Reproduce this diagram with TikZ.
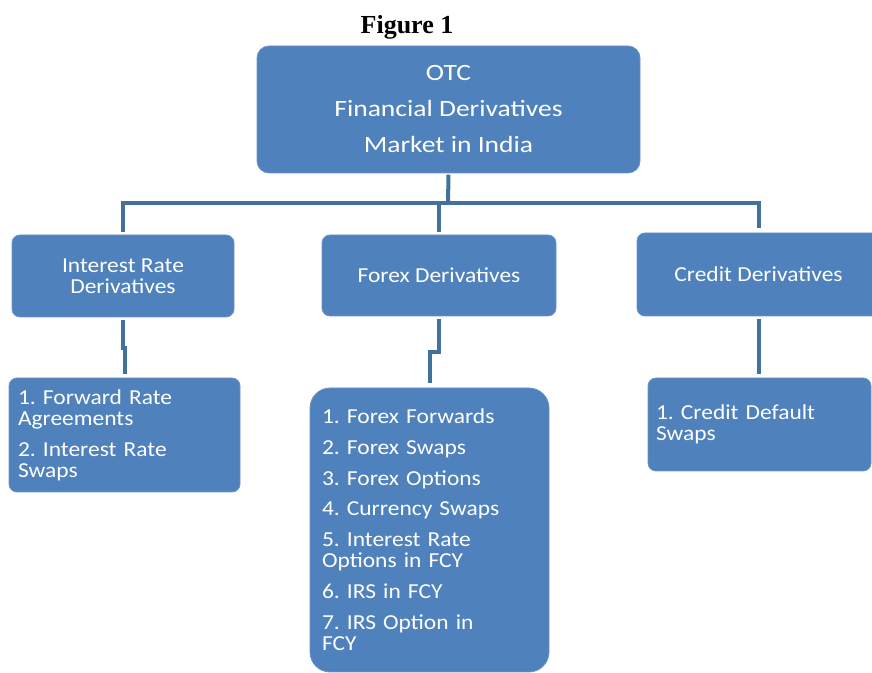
\documentclass[tikz,border=0pt]{standalone}
\usepackage{fontspec}
\setmainfont{Carlito}
\newfontfamily\boxfont{Carlito}[FakeStretch=1.1]
\newfontfamily\topfont{Carlito}[FakeStretch=1.18]
\newfontfamily\figfont{Liberation Serif}
\definecolor{boxblue}{HTML}{4F81BD}
\definecolor{boxedge}{HTML}{6A94C8}
\definecolor{connblue}{HTML}{41719C}
\frenchspacing
\begin{document}
\begin{tikzpicture}[x=0.75pt, y=-0.75pt,
  box/.style={fill=boxblue, draw=boxedge, line width=0.6pt, text=white, rounded corners=6pt, inner sep=0pt},
  midtext/.style={font=\boxfont\fontsize{16}{15.75}\selectfont, align=center},
  listtext/.style={font=\boxfont\fontsize{16}{16}\selectfont, align=left},
  conn/.style={draw=connblue, line width=3pt}]
\useasboundingbox (0,0) rectangle (872,673);
\clip (0,0) rectangle (872,673);

\node[font=\figfont\bfseries\fontsize{19.5}{20}\selectfont] (fig) at (407,27) {Figure 1};

\node[box, rounded corners=9pt, minimum width=287.25pt, minimum height=95.25pt,
      font=\topfont\fontsize{17.5}{27}\selectfont, align=center] (top) at (448.5,109.5)
      {OTC\\Financial Derivatives\\Market in India};

\node[box, midtext, minimum width=166.5pt, minimum height=61.5pt] (ir) at (123,276) {Interest Rate\\Derivatives};
\node[box, midtext, minimum width=175.5pt, minimum height=60.75pt] (fx) at (439,275.5) {Forex Derivatives};
\node[box, midtext, minimum width=182.25pt, minimum height=62.25pt] (cr) at (758.5,274.5) {Credit Derivatives};

\node[box, listtext, text width=159.75pt, inner xsep=6.75pt, minimum height=85.5pt] (fra) at (124.5,435)
  {1. Forward Rate\\Agreements\\[7pt]2. Interest Rate\\Swaps};
\node[box, listtext, rounded corners=15pt, text width=161.25pt, inner xsep=9pt, minimum height=213pt] (fxl) at (429.5,530)
  {1. Forex Forwards\\[7pt]2. Forex Swaps\\[7pt]3. Forex Options\\[7pt]4. Currency Swaps\\[7pt]5. Interest Rate\\Options in FCY\\[7pt]6. IRS in FCY\\[7pt]7. IRS Option in\\FCY};
\node[box, listtext, text width=155.25pt, inner xsep=6pt, minimum height=69.75pt] (cds) at (759.5,424.5)
  {1. Credit Default\\Swaps};

\coordinate (hub) at (448,203);
\draw[conn] ([yshift=-1pt]top.south) -- (hub);
\draw[conn] ([yshift=2.25pt]ir.north) |- (hub) -| ([yshift=3.75pt]cr.north);
\draw[conn] ([yshift=2.25pt]fx.north) -- (fx.north |- hub);

\draw[conn] ([yshift=-2.25pt]ir.south) -- ++(0,28) -| ([yshift=2.5pt]fra.north);
\draw[conn] ([yshift=-2.25pt]fx.south) -- ++(0,33) -| ([yshift=3.75pt]fxl.north);
\draw[conn] ([yshift=-2.25pt]cr.south) -- ([yshift=3pt]cr.south |- cds.north);
\end{tikzpicture}
\end{document}
